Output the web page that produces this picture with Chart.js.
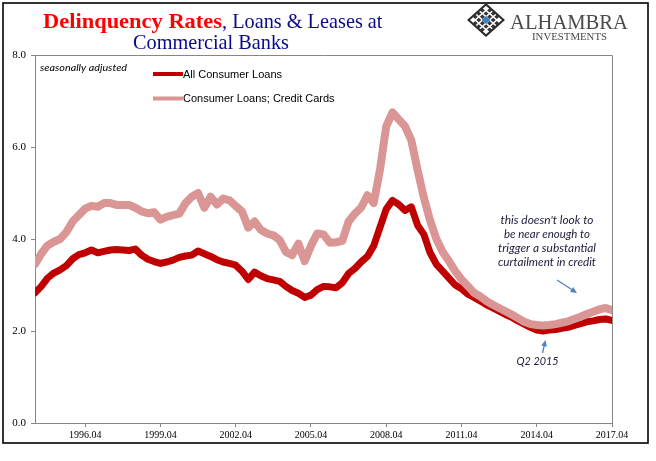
<!DOCTYPE html>
<html><head><meta charset="utf-8">
<script src="https://cdn.jsdelivr.net/npm/chart.js@4/dist/chart.umd.min.js"></script>
<style>html,body{margin:0;padding:0;background:#fff}canvas{display:block}</style>
</head><body>
<canvas id="c" width="656" height="461" style="width:656px;height:461px"></canvas>
<script>
// ---- data (quarterly, first point 1994.04) ----
const quarterMonths = ['01','04','07','10'];
const categories = [];
for (let i = 0; i < 93; i++) { const q = i + 1; categories.push((1994 + Math.floor(q / 4)) + '.' + quarterMonths[q % 4]); }
const tickLabels = ['1996.04','1999.04','2002.04','2005.04','2008.04','2011.04','2014.04','2017.04'];
const yTicks = [0, 2, 4, 6, 8];

const allConsumerLoans = [
  2.83, 2.97, 3.15, 3.26, 3.33, 3.42, 3.57, 3.66, 3.70, 3.76,
  3.70, 3.73, 3.76, 3.77, 3.76, 3.75, 3.78, 3.65, 3.56, 3.51,
  3.47, 3.50, 3.54, 3.60, 3.63, 3.65, 3.74, 3.68, 3.62, 3.55,
  3.50, 3.47, 3.43, 3.30, 3.12, 3.28, 3.20, 3.14, 3.11, 3.08,
  2.97, 2.88, 2.82, 2.73, 2.78, 2.90, 2.97, 2.96, 2.94, 3.05,
  3.25, 3.36, 3.50, 3.62, 3.85, 4.25, 4.65, 4.84, 4.75, 4.62,
  4.70, 4.30, 4.10, 3.70, 3.45, 3.30, 3.15, 3.00, 2.92, 2.80,
  2.73, 2.65, 2.57, 2.50, 2.43, 2.36, 2.30, 2.22, 2.15, 2.08,
  2.02, 2.00, 2.02, 2.03, 2.06, 2.08, 2.12, 2.16, 2.20, 2.22,
  2.25, 2.26, 2.23
];
const creditCards = [
  3.45, 3.68, 3.86, 3.94, 4.00, 4.15, 4.38, 4.52, 4.66, 4.72,
  4.70, 4.78, 4.78, 4.74, 4.74, 4.74, 4.68, 4.60, 4.56, 4.58,
  4.42, 4.48, 4.52, 4.55, 4.78, 4.92, 5.00, 4.68, 4.92, 4.75,
  4.88, 4.84, 4.72, 4.60, 4.25, 4.38, 4.20, 4.12, 4.08, 3.98,
  3.72, 3.65, 3.90, 3.52, 3.85, 4.12, 4.10, 3.92, 3.93, 3.96,
  4.38, 4.55, 4.68, 4.95, 4.78, 5.50, 6.45, 6.75, 6.60, 6.45,
  6.15, 5.50, 4.90, 4.40, 4.00, 3.72, 3.52, 3.30, 3.12, 2.98,
  2.83, 2.75, 2.65, 2.57, 2.50, 2.43, 2.36, 2.28, 2.20, 2.15,
  2.13, 2.12, 2.13, 2.15, 2.18, 2.21, 2.26, 2.31, 2.37, 2.42,
  2.47, 2.50, 2.45
];
const seriesNames = ['All Consumer Loans', 'Consumer Loans; Credit Cards'];
const seriesColors = ['#C00000', '#D99694'];

// ---- helpers ----
function fitText(ctx, text, x, y, targetW, align, forcedScale) {
  const w = ctx.measureText(text).width;
  const sx = forcedScale || targetW / w;
  ctx.save();
  ctx.translate(x, y);
  ctx.scale(sx, 1);
  ctx.textAlign = 'left';
  let x0 = 0;
  if (align === 'center') x0 = -w / 2;
  ctx.fillText(text, x0, 0);
  ctx.restore();
  return sx;
}
function diamondPath(ctx, cx, cy, rx, ry) {
  ctx.beginPath();
  ctx.moveTo(cx, cy - ry); ctx.lineTo(cx + rx, cy); ctx.lineTo(cx, cy + ry); ctx.lineTo(cx - rx, cy); ctx.closePath();
}
function arrow(ctx, x1, y1, x2, y2, color) {
  ctx.save();
  ctx.strokeStyle = color; ctx.fillStyle = color; ctx.lineWidth = 1.3;
  const a = Math.atan2(y2 - y1, x2 - x1), h = 7;
  ctx.beginPath(); ctx.moveTo(x1, y1); ctx.lineTo(x2 - Math.cos(a) * h * 0.7, y2 - Math.sin(a) * h * 0.7); ctx.stroke();
  ctx.beginPath();
  ctx.moveTo(x2, y2);
  ctx.lineTo(x2 - h * Math.cos(a - 0.42), y2 - h * Math.sin(a - 0.42));
  ctx.lineTo(x2 - h * Math.cos(a + 0.42), y2 - h * Math.sin(a + 0.42));
  ctx.closePath(); ctx.fill();
  ctx.restore();
}

const decor = {
  id: 'decor',
  afterDatasetsDraw(chart) {
    const ctx = chart.ctx, a = chart.chartArea;
    ctx.save();
    ctx.strokeStyle = '#868686'; ctx.lineWidth = 1;
    ctx.beginPath();
    ctx.moveTo(a.left, a.top + 0.5); ctx.lineTo(Math.round(a.right) + 0.5, a.top + 0.5);
    ctx.lineTo(Math.round(a.right) + 0.5, a.bottom);
    ctx.stroke();
    ctx.restore();
  },
  afterDraw(chart) {
    const ctx = chart.ctx;
    ctx.save();
    // outer frame
    ctx.strokeStyle = '#000'; ctx.lineWidth = 1.6;
    ctx.strokeRect(3, 3, 645, 440);

    // title
    ctx.textBaseline = 'alphabetic';
    ctx.font = 'bold 21px "Liberation Serif"';
    ctx.fillStyle = '#FF0000';
    fitText(ctx, 'Delinquency Rates', 43, 28, 179);
    ctx.font = '21px "Liberation Serif"';
    ctx.fillStyle = '#0B0B8A';
    const s = fitText(ctx, 'Commercial Banks', 211, 49, 156, 'center');
    fitText(ctx, ', Loans & Leases at', 222, 28, 0, 'left', s);

    // logo
    const cx = 486, cy = 20;
    ctx.fillStyle = '#2a2a2a';
    diamondPath(ctx, cx, cy, 19, 17); ctx.fill();
    ctx.fillStyle = '#fff';
    diamondPath(ctx, cx, cy, 16, 14.3); ctx.fill();
    ctx.fillStyle = '#333';
    for (let i = -2; i <= 2; i++) for (let j = -2; j <= 2; j++) {
      if (i === 0 && j === 0) continue;
      if (Math.abs(i) + Math.abs(j) > 3) continue;
      const px = cx + (i - j) * 3.6, py = cy + (i + j) * 3.2;
      diamondPath(ctx, px, py, 2.5, 2.2); ctx.fill();
    }
    ctx.fillStyle = '#3F7DC4';
    diamondPath(ctx, cx, cy, 4.4, 4); ctx.fill();
    ctx.fillStyle = '#4a4a4a';
    ctx.font = '21px "Liberation Serif"';
    fitText(ctx, 'ALHAMBRA', 510, 29, 118);
    ctx.font = '10px "Liberation Serif"';
    fitText(ctx, 'INVESTMENTS', 532, 40, 75);

    // seasonally adjusted
    ctx.fillStyle = '#000';
    ctx.font = 'italic 10px Lato';
    fitText(ctx, 'seasonally adjusted', 40, 71, 87);

    // legend
    const ly = [74, 98.5];
    for (let k = 0; k < 2; k++) {
      ctx.strokeStyle = seriesColors[k]; ctx.lineWidth = 4; ctx.lineCap = 'butt';
      ctx.beginPath(); ctx.moveTo(153, ly[k]); ctx.lineTo(183, ly[k]); ctx.stroke();
      ctx.fillStyle = '#000';
      ctx.font = '11px "Liberation Sans"';
      ctx.textBaseline = 'middle';
      ctx.fillText(seriesNames[k], 183, ly[k] + 0.5);
    }
    ctx.textBaseline = 'alphabetic';

    // annotations
    ctx.fillStyle = '#1c1c3c';
    ctx.font = 'italic 12px Lato';
    const lines = ["this doesn't look to", 'be near enough to', 'trigger a substantial', 'curtailment in credit'];
    const lw = [93, 86, 98, 98];
    const bl = [223.5, 237.8, 252, 266.3];
    for (let k = 0; k < 4; k++) fitText(ctx, lines[k], 547, bl[k], lw[k], 'center');
    fitText(ctx, 'Q2 2015', 537.5, 365, 42, 'center');
    arrow(ctx, 557, 280, 577, 293, '#4F81BD');
    arrow(ctx, 542.5, 353, 545.5, 340, '#4F81BD');
    ctx.restore();
  }
};

new Chart(document.getElementById('c'), {
  type: 'line',
  data: {
    labels: categories,
    datasets: [
      { label: seriesNames[0], data: allConsumerLoans, borderColor: seriesColors[0], backgroundColor: seriesColors[0], borderWidth: 7, order: 1, clip: { left: 0, right: 0, top: 8, bottom: 8 } },
      { label: seriesNames[1], data: creditCards, borderColor: seriesColors[1], backgroundColor: seriesColors[1], borderWidth: 8, order: 0, clip: { left: 0, right: 0, top: 8, bottom: 8 } }
    ]
  },
  options: {
    responsive: false, animation: false, devicePixelRatio: 1,
    layout: { padding: { left: 0, right: 44, top: 55, bottom: 0 } },
    plugins: { legend: { display: false }, tooltip: { enabled: false }, title: { display: false } },
    elements: { point: { radius: 0 }, line: { tension: 0, borderCapStyle: 'round', borderJoinStyle: 'round' } },
    scales: {
      x: {
        type: 'category',
        afterBuildTicks: s => { s.ticks = s.ticks.filter(t => tickLabels.includes(categories[t.value])); },
        afterFit: s => { s.height = 38; },
        ticks: { autoSkip: false, maxRotation: 0, minRotation: 0, color: '#000', font: { family: '"Liberation Serif"', size: 10 }, padding: 2 },
        grid: { drawOnChartArea: false, drawTicks: true, tickLength: 4, color: '#868686' },
        border: { color: '#868686', width: 1 }
      },
      y: {
        min: 0, max: 8,
        afterBuildTicks: s => { s.ticks = yTicks.map(v => ({ value: v })); },
        afterFit: s => { s.width = 35; },
        ticks: { callback: v => v.toFixed(1), color: '#000', font: { family: '"Liberation Serif"', size: 11 }, padding: 5 },
        grid: { drawOnChartArea: false, drawTicks: true, tickLength: 4, color: '#868686' },
        border: { color: '#868686', width: 1 }
      }
    }
  },
  plugins: [decor]
});
</script>
</body></html>
